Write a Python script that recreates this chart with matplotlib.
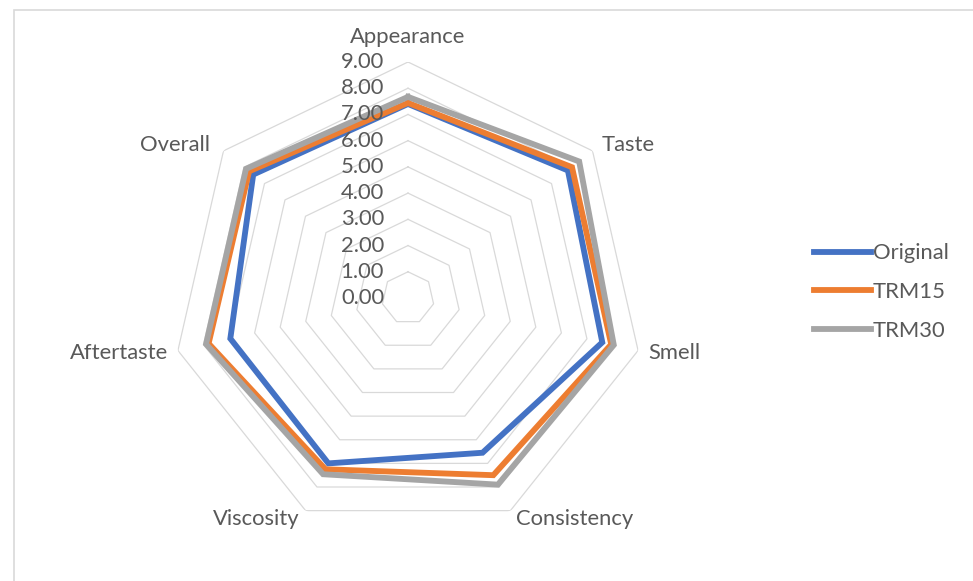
import numpy as np
import matplotlib
matplotlib.use("Agg")
import matplotlib.pyplot as plt
from matplotlib.transforms import offset_copy
from matplotlib.patches import Rectangle

# data
categories = ["Appearance", "Taste", "Smell", "Consistency", "Viscosity", "Aftertaste", "Overall"]
original = [7.40, 7.80, 7.60, 6.55, 7.00, 6.95, 7.55]
trm15 = [7.44, 8.00, 7.95, 7.50, 7.25, 7.80, 7.75]
trm30 = [7.67, 8.35, 8.05, 7.90, 7.46, 7.90, 7.90]
series_names = ["Original", "TRM15", "TRM30"]
ring_values = np.arange(0, 10)
ring_labels = ["%.2f" % v for v in ring_values]

colors = ["#4472C4", "#ED7D31", "#A5A5A5"]
txt_col = "#595959"
grid_col = "#D9D9D9"
fs = 15.8

plt.rcParams['font.family'] = ['Lato', 'DejaVu Sans']

W, H = 973, 581
fig = plt.figure(figsize=(W / 100, H / 100), dpi=100)

# chart border
fig.patches.append(Rectangle((14 / W, -0.1), 1.2, 1.1 - 10 / H, transform=fig.transFigure,
                             fill=False, edgecolor=grid_col, lw=1.2))

cx, cy, R = 408, 298, 236
ax = fig.add_axes([(cx - R) / W, (H - cy - R) / H, 2 * R / W, 2 * R / H], projection='polar')
ax.set_theta_zero_location('N')
ax.set_theta_direction(-1)
ax.set_ylim(0, 9)
ax.grid(False)
ax.set_xticks([])
ax.set_yticks([])
ax.spines['polar'].set_visible(False)
ax.patch.set_alpha(0)

n = len(categories)
theta = np.linspace(0, 2 * np.pi, n, endpoint=False)
theta_c = np.append(theta, theta[0])

# polygon rings
for v in ring_values[1:]:
    ax.plot(theta_c, [v] * (n + 1), color=grid_col, lw=0.9, zorder=1)

# series
for vals, name, c in zip([original, trm15, trm30], series_names, colors):
    ax.plot(theta_c, list(vals) + [vals[0]], color=c, lw=4.2, label=name,
            solid_joinstyle='miter', zorder=3)

# value labels along the top axis
for v, lab in zip(ring_values, ring_labels):
    tr = offset_copy(ax.transData, fig=fig, x=-24, y=0, units='dots')
    ax.text(0, v, lab, transform=tr, ha='right', va='center', fontsize=fs,
            color=txt_col, zorder=4)

# category labels
lab_pos = [('center', 25), ('left', (9, 6)), ('left', (10, -2)), ('left', (6, -8)),
           ('right', (-6, -8)), ('right', (-10, -2)), ('right', (-13, 6))]
for t, cat, (ha, off) in zip(theta, categories, lab_pos):
    dx, dy = (0, off) if ha == 'center' else off
    tr = offset_copy(ax.transData, fig=fig, x=dx, y=dy, units='dots')
    ax.text(t, 9, cat, transform=tr, ha=ha, va='center', fontsize=fs, color=txt_col)

leg = fig.legend(loc='center left', bbox_to_anchor=(794 / W, 1 - 292 / H), frameon=False,
                 fontsize=fs, handlelength=2.6, handletextpad=0.1, labelspacing=0.85)
for t in leg.get_texts():
    t.set_color(txt_col)

fig.savefig("out.png", dpi=100)
